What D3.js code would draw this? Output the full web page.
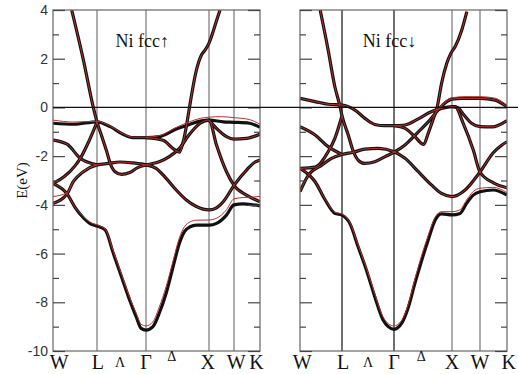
<!DOCTYPE html>
<html>
<head>
<meta charset="utf-8">
<script src="https://cdn.jsdelivr.net/npm/d3@7/dist/d3.min.js"></script>
<style>
  body { margin: 0; background: #fff; }
  svg { display: block; }
</style>
</head>
<body>
<svg id="chart" width="518" height="374"></svg>
<script>
// high symmetry points along the path, k index 0..5
const kPoints = [0, 1, 2, 3, 4, 5];
const kLabels = ['W', 'L', 'Λ', 'Γ', 'Δ', 'X', 'W', 'K'];
const kLabelPosUp = [0.14, 1.02, 1.47, 2, 2.41, 2.98, 4.08, 4.86];
const kLabelPosDn = [0.05, 1.02, 1.5, 2, 2.47, 3, 4, 5.06];
const eTicks = [-10, -8, -6, -4, -2, 0, 2, 4];
const eMinor = [-9, -7, -5, -3, -1, 1, 3];

// spin up bands, [k, E(eV)]
const upS = [[0,-3.12],[0.32,-3.55],[0.5,-4.1],[0.7,-4.55],[0.85,-4.78],[1,-4.87],[1.167,-5.03],[1.333,-5.99],[1.5,-6.95],[1.667,-7.91],[1.8,-8.6],[1.9,-9.07],[2,-9.14],[2.11,-9.0],[2.21,-8.45],[2.32,-7.63],[2.43,-6.54],[2.53,-5.58],[2.61,-5.1],[2.7,-4.9],[2.8,-4.83],[3,-4.83],[3.3,-4.76],[3.7,-4.42],[4,-4.0],[4.35,-3.96],[4.74,-4.0],[5,-4.04]];
const upSred = [[0,-3.12],[0.32,-3.55],[0.5,-4.1],[0.7,-4.5],[0.85,-4.72],[1,-4.82],[1.167,-5.0],[1.333,-5.9],[1.5,-6.85],[1.667,-7.8],[1.8,-8.45],[1.9,-8.9],[2,-8.97],[2.11,-8.8],[2.21,-8.2],[2.32,-7.35],[2.43,-6.3],[2.53,-5.35],[2.61,-4.9],[2.7,-4.7],[2.8,-4.63],[3,-4.62],[3.3,-4.55],[3.7,-4.2],[4,-3.75],[4.35,-3.7],[4.74,-3.68],[5,-3.65]];
const upA = [[0,-3.94],[0.32,-3.55],[0.46,-3.05],[0.69,-2.64],[1,-2.36],[1.23,-2.3],[1.47,-2.24],[1.73,-2.28],[2,-2.36],[2.16,-2.5],[2.32,-2.91],[2.48,-3.39],[2.64,-3.8],[2.8,-4.07],[3,-4.21],[3.3,-4.12],[3.57,-3.87],[4,-3.2],[4.5,-2.55],[4.8,-2.25],[5,-2.16]];
const upAred = [[0,-3.66],[0.32,-3.5],[0.46,-3.03],[0.69,-2.63],[1,-2.36]];
const upC = [[0,-1.34],[0.32,-1.51],[0.62,-2.09],[1,-2.36]];
const upF = [[0,-3.12],[0.25,-2.85],[0.5,-2.4],[0.62,-2.09],[0.8,-1.45],[0.92,-0.95],[1,-0.6]];
const upSteep = [[0.425,4.0],[0.69,1.95],[0.916,0],[1,-0.6],[1.1,-1.2],[1.2,-1.82],[1.27,-2.3],[1.37,-2.64],[1.5,-2.75],[1.67,-2.67],[1.83,-2.47],[2,-2.36],[2.21,-2.23],[2.37,-2.02],[2.53,-1.68],[2.7,-1.07],[2.86,-0.65],[3,-0.52],[3.3,-1.54],[3.7,-2.64],[4,-3.2],[4.48,-3.6],[5,-3.87]];
const upD = [[0,-0.65],[0.47,-0.69],[1,-0.59],[1.27,-0.79],[1.53,-1.1],[1.73,-1.24],[2,-1.24],[2.21,-1.2],[2.48,-0.89],[2.7,-0.69],[2.86,-0.56],[3,-0.52],[3.57,-0.59],[4,-0.61],[4.6,-0.65],[5,-0.82]];
const upDred = [[0,-0.52],[0.47,-0.6],[1,-0.57],[1.27,-0.77],[1.53,-1.08],[1.73,-1.22],[2,-1.22],[2.21,-1.16],[2.48,-0.82],[2.7,-0.58],[2.86,-0.45],[3,-0.4],[3.5,-0.38],[4,-0.42],[4.6,-0.5],[5,-0.69]];
const upV = [[2,-1.24],[2.27,-1.35],[2.43,-1.69],[2.53,-1.84],[2.59,-1.41],[2.64,-0.79],[2.69,0],[2.8,1.53],[2.88,2.15],[2.94,2.36],[3,2.64],[3.31,3.59],[3.44,4.0]];
const upU2 = [[3,-0.52],[3.3,-0.86],[3.7,-1.2],[4,-1.3],[4.48,-1.27],[5,-1.1]];

// spin down bands
const dnS = [[0,-2.5],[0.36,-3.05],[0.6,-3.8],[0.83,-4.35],[1,-4.42],[1.15,-4.76],[1.31,-5.72],[1.47,-6.68],[1.63,-7.77],[1.79,-8.73],[1.89,-9.0],[2,-9.11],[2.13,-8.87],[2.25,-8.18],[2.36,-7.22],[2.48,-6.26],[2.59,-5.44],[2.71,-4.62],[2.82,-4.37],[3,-4.41],[3.29,-4.35],[3.52,-3.94],[3.76,-3.6],[4,-3.46],[4.49,-3.39],[5,-3.6]];
const dnSred = [[0,-2.5],[0.36,-3.05],[0.6,-3.78],[0.83,-4.3],[1,-4.38],[1.15,-4.72],[1.31,-5.65],[1.47,-6.6],[1.63,-7.65],[1.79,-8.6],[1.89,-8.88],[2,-8.97],[2.13,-8.75],[2.25,-8.05],[2.36,-7.05],[2.48,-6.05],[2.59,-5.25],[2.71,-4.5],[2.82,-4.28],[3,-4.28],[3.29,-4.2],[3.52,-3.8],[3.76,-3.45],[4,-3.32],[4.49,-3.28],[5,-3.5]];
const dnA = [[0,-3.46],[0.2,-2.78],[0.52,-2.37],[0.75,-2.09],[1,-1.93],[1.22,-1.84],[1.44,-1.71],[1.7,-1.68],[2,-1.82],[2.19,-2.09],[2.42,-2.64],[2.65,-3.19],[2.82,-3.53],[3,-3.66],[3.46,-3.4],[4,-2.65],[4.5,-1.85],[4.8,-1.55],[5,-1.41]];
const dnC = [[0,-0.79],[0.36,-1.13],[0.67,-1.61],[1,-1.93]];
const dnF = [[0,-2.5],[0.36,-2.45],[0.67,-1.82],[0.83,-1.27],[1,-0.34]];
const dnSteep = [[0.48,4.0],[0.67,2.36],[0.83,0.85],[0.95,0.06],[1,-0.34],[1.12,-1.13],[1.22,-1.82],[1.31,-2.16],[1.44,-2.3],[1.63,-2.23],[1.83,-2.02],[2,-1.84],[2.19,-1.54],[2.42,-1.0],[2.59,-0.59],[2.76,-0.11],[2.91,0.24],[3,0.34],[3.35,0.37],[4,0.37],[4.56,0.3],[4.8,0.17],[5,0.03]];
const dnSteepRed = [[2.76,-0.08],[2.91,0.3],[3,0.4],[3.5,0.44],[4,0.44],[4.56,0.38],[4.8,0.25],[5,0.1]];
const dnD = [[0,0.37],[0.36,0.24],[0.67,0.13],[1,0.1],[1.25,-0.11],[1.44,-0.45],[1.63,-0.7],[1.83,-0.75],[2,-0.75],[2.19,-0.72],[2.42,-0.47],[2.65,-0.17],[2.82,-0.04],[3,0.03],[3.2,0.0],[3.42,-0.3],[3.7,-0.65],[4,-0.79],[4.45,-0.8],[5,-0.54]];
const dnV = [[2,-0.75],[2.19,-0.86],[2.36,-1.2],[2.51,-1.52],[2.59,-1.06],[2.68,-0.45],[2.74,-0.04],[2.82,0.99],[2.91,1.81],[2.98,2.22],[3.11,2.49],[3.35,3.18],[3.53,3.93]];
const dnX = [[3,0.03],[3.11,0.03],[3.4,-0.65],[3.76,-1.75],[4,-2.65],[4.5,-3.1],[5,-3.3]];

const W = 518, H = 374;
const svg = d3.select('#chart');
const y = d3.scaleLinear().domain([-10, 4]).range([351, 10]);

const panels = [
  { id: 'up', range: [53, 97, 146, 209, 234, 260], labels: kLabelPosUp, title: 'Ni fcc\u2191', titleK: 1.38,
    vcol: ['#777', '#777', '#777', '#777'],
    black: [upS, upA, upC, upF, upSteep, upD, upV, upU2],
    red: [upSred, upA, upAred, upC, upF, upSteep, upDred, upV, upU2], yAxisLabels: true },
  { id: 'dn', range: [300, 342, 394, 452, 480, 507], labels: kLabelPosDn, title: 'Ni fcc\u2193', titleK: 1.4,
    vcol: ['#111', '#111', '#777', '#777'],
    black: [dnS, dnA, dnC, dnF, dnSteep, dnD, dnV, dnX],
    red: [dnSred, dnA, dnC, dnF, dnSteep, dnSteepRed, dnD, dnV, dnX], yAxisLabels: false }
];

panels.forEach(p => {
  const x = d3.scaleLinear().domain(kPoints).range(p.range);
  const x0 = p.range[0], x1 = p.range[p.range.length - 1];
  const g = svg.append('g');

  g.append('clipPath').attr('id', 'clip-' + p.id)
    .append('rect').attr('x', x0).attr('y', y(4)).attr('width', x1 - x0).attr('height', y(-10) - y(4));

  // vertical lines at high symmetry points
  g.selectAll('line.sym').data(kPoints.slice(1, -1)).enter().append('line')
    .attr('x1', d => x(d)).attr('x2', d => x(d))
    .attr('y1', y(4)).attr('y2', y(-10))
    .attr('stroke', (d, i) => p.vcol[i]).attr('stroke-width', 1.2);

  const line = d3.line().x(d => x(d[0])).y(d => y(d[1])).curve(d3.curveMonotoneX);
  const bands = g.append('g').attr('clip-path', 'url(#clip-' + p.id + ')');
  bands.selectAll('path.black').data(p.black).enter().append('path')
    .attr('d', line).attr('fill', 'none').attr('stroke', '#111')
    .attr('stroke-width', 3.2).attr('stroke-linejoin', 'round');
  bands.selectAll('path.red').data(p.red).enter().append('path')
    .attr('d', line).attr('fill', 'none').attr('stroke', '#b8302c')
    .attr('stroke-width', 1);

  // frame
  g.append('rect').attr('x', x0).attr('y', y(4)).attr('width', x1 - x0).attr('height', y(-10) - y(4))
    .attr('fill', 'none').attr('stroke', '#666').attr('stroke-width', 1.2);

  // ticks both sides, inward
  const left = d3.axisLeft(y).tickValues(eTicks).tickSize(-12).tickPadding(5)
    .tickFormat(p.yAxisLabels ? d3.format('d') : '');
  const leftMinor = d3.axisLeft(y).tickValues(eMinor).tickSize(-6).tickFormat('');
  const right = d3.axisRight(y).tickValues(eTicks).tickSize(-12).tickFormat('');
  const rightMinor = d3.axisRight(y).tickValues(eMinor).tickSize(-6).tickFormat('');
  [[left, x0], [leftMinor, x0], [right, x1], [rightMinor, x1]].forEach(([ax, px]) => {
    const a = g.append('g').attr('transform', `translate(${px},0)`).call(ax);
    a.select('.domain').remove();
    a.selectAll('line').attr('stroke', '#444').attr('stroke-width', 1.2);
    a.selectAll('text').attr('font-family', '"Liberation Sans", Arial, sans-serif')
      .attr('font-size', 14).attr('fill', '#333').text(d => d3.format('d')(d).replace('\u2212', '-'));
    if (!p.yAxisLabels || ax === leftMinor || ax === right || ax === rightMinor) a.selectAll('text').remove();
  });

  // k labels
  g.selectAll('text.klab').data(kLabels).enter().append('text')
    .attr('x', (d, i) => x(p.labels[i]))
    .attr('y', d => (d === 'Δ' ? 361 : d === 'Λ' ? 367 : 369))
    .attr('text-anchor', 'middle')
    .attr('font-family', '"Liberation Serif", "Times New Roman", serif')
    .attr('font-size', d => (d === 'Λ' || d === 'Δ') ? 14 : 20)
    .attr('fill', '#111')
    .text(d => d);

  // title
  g.append('text').attr('x', x(p.titleK)).attr('y', 47)
    .attr('font-family', '"Liberation Serif", "Times New Roman", serif')
    .attr('font-size', 18).attr('fill', '#111').text(p.title);
});

// Fermi level line across both panels
svg.append('line').attr('x1', 53).attr('x2', W).attr('y1', y(0)).attr('y2', y(0))
  .attr('stroke', '#111').attr('stroke-width', 1.2);

// y axis title
svg.append('text').attr('transform', `translate(27,${y(-3)}) rotate(-90)`)
  .attr('text-anchor', 'middle')
  .attr('font-family', '"Liberation Serif", "Times New Roman", serif')
  .attr('font-size', 15).attr('fill', '#111').text('E(eV)');
</script>
</body>
</html>
